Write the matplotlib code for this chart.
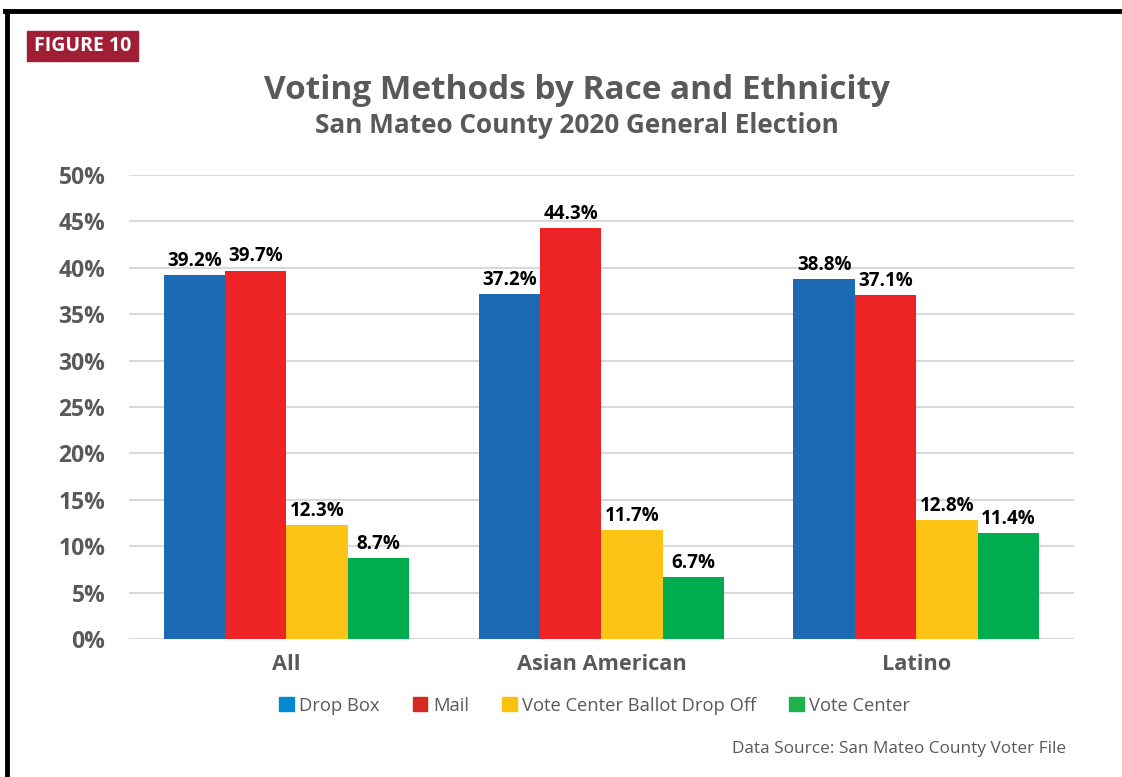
import numpy as np
import matplotlib.pyplot as plt
from matplotlib.patches import Rectangle, Patch
from matplotlib.lines import Line2D

plt.rcParams['font.family'] = ['Open Sans', 'DejaVu Sans']

# data
groups = ["All", "Asian American", "Latino"]
methods = ["Drop Box", "Mail", "Vote Center Ballot Drop Off", "Vote Center"]
drop_box = [39.2, 37.2, 38.8]
mail = [39.7, 44.3, 37.1]
vc_drop_off = [12.3, 11.7, 12.8]
vote_center = [8.7, 6.7, 11.4]
yticks = [0, 5, 10, 15, 20, 25, 30, 35, 40, 45, 50]

bar_colors = ["#1B6AB3", "#EE2326", "#FDC315", "#00AD4E"]
legend_colors = ["#0288D1", "#D42A20", "#FCC10F", "#1DB24A"]
grey = "#595959"

fig = plt.figure(figsize=(11.22, 7.77), dpi=100)
ax = fig.add_axes([0.115, 0.1776, 0.842, 0.5972])

series = [drop_box, mail, vc_drop_off, vote_center]
x = np.arange(len(groups))
w = 0.195
for i, vals in enumerate(series):
    pos = x + (i - 1.5) * w
    ax.bar(pos, vals, width=w, color=bar_colors[i], zorder=3)
    for px, v in zip(pos, vals):
        ax.text(px, v + 0.45, f"{v}%", ha="center", va="bottom",
                fontsize=13.5, fontweight="bold", color="black", zorder=4)

ax.set_xlim(-0.5, 2.5)
ax.set_ylim(0, 50)
ax.set_yticks(yticks)
ax.set_yticklabels([f"{t}%" for t in yticks], fontsize=16.5, fontweight="bold", color=grey)
ax.set_xticks(x)
ax.set_xticklabels(groups, fontsize=15.7, fontweight="bold", color=grey)
ax.tick_params(axis="both", length=0)
ax.tick_params(axis="y", pad=17)
ax.tick_params(axis="x", pad=11)
ax.grid(axis="y", color="#D9D9D9", linewidth=1.5, zorder=0)
for s in ax.spines.values():
    s.set_visible(False)

# title block
fig.text(0.514, 0.884, "Voting Methods by Race and Ethnicity", ha="center", va="center",
         fontsize=24, fontweight="bold", color=grey)
fig.text(0.514, 0.839, "San Mateo County 2020 General Election", ha="center", va="center",
         fontsize=18.8, fontweight="bold", color=grey)

# figure tag
fig.patches.append(Rectangle((27 / 1122, 1 - 61 / 777), 111 / 1122, 30 / 777,
                             transform=fig.transFigure, color="#A01F35"))
fig.text(82.5 / 1122, 1 - 46 / 777, "FIGURE 10", ha="center", va="center",
         fontsize=14, fontweight="bold", color="white")

# frame (left and top only)
fig.add_artist(Line2D([7 / 1122, 7 / 1122], [0, 1 - 10.5 / 777], transform=fig.transFigure,
                      color="black", linewidth=3.5))
fig.add_artist(Line2D([5.3 / 1122, 1], [1 - 10.5 / 777, 1 - 10.5 / 777], transform=fig.transFigure,
                      color="black", linewidth=3.5))

# legend
handles = [Patch(color=c, label=m) for c, m in zip(legend_colors, methods)]
fig.legend(handles=handles, loc="center", bbox_to_anchor=(0.53, 0.092), ncol=4,
           frameon=False, fontsize=13.2, handlelength=0.8, handleheight=0.8,
           handletextpad=0.3, columnspacing=1.8, labelcolor=grey)

fig.text(1066 / 1122, 1 - 749 / 777, "Data Source: San Mateo County Voter File",
         ha="right", va="center", fontsize=12.4, color=grey)

fig.savefig("out.png", dpi=100)
